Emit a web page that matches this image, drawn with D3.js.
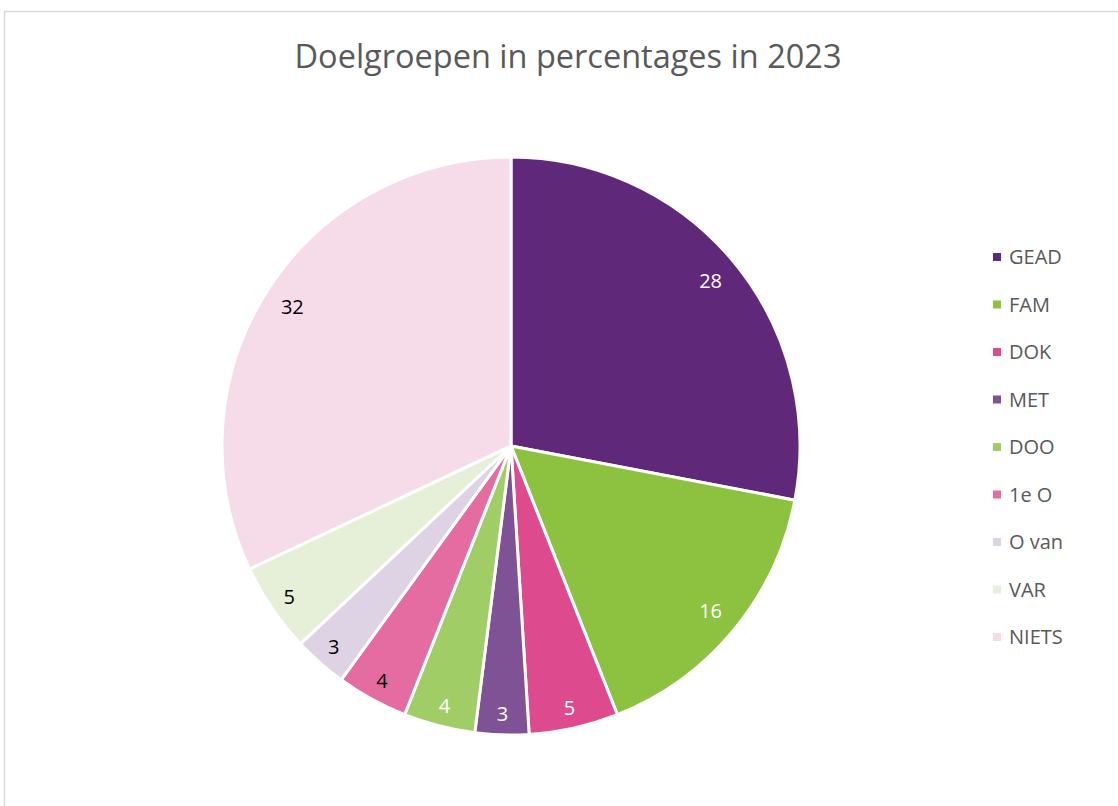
<!DOCTYPE html>
<html>
<head>
<meta charset="utf-8">
<script src="https://cdn.jsdelivr.net/npm/d3@7"></script>
<style>
  body { margin: 0; background: #fff; }
  text { font-family: "Open Sans", sans-serif; }
</style>
</head>
<body>
<svg></svg>
<script>
const categories = ['GEAD', 'FAM', 'DOK', 'MET', 'DOO', '1e O', 'O van', 'VAR', 'NIETS'];
const values = [28, 16, 5, 3, 4, 4, 3, 5, 32];
const colors = ['#5f2878', '#8dc140', '#de4a8e', '#7f5295', '#a1cd67', '#e46ca1', '#ded3e4', '#e6f0d8', '#f6dbe8'];
const labelColors = ['#fff', '#fff', '#fff', '#fff', '#fff', '#000', '#000', '#000', '#000'];

const width = 1118, height = 806;
const svg = d3.select('svg')
  .attr('width', width)
  .attr('height', height);

// chart border (runs off the right and bottom)
svg.append('path')
  .attr('d', `M4.5,${height} V11.5 H${width}`)
  .attr('fill', 'none')
  .attr('stroke', '#d9d9d9')
  .attr('stroke-width', 1.5);

svg.append('text')
  .attr('x', 568)
  .attr('y', 68)
  .attr('text-anchor', 'middle')
  .attr('fill', '#595959')
  .attr('font-size', 32.5)
  .text('Doelgroepen in percentages in 2023');

const data = categories.map((c, i) => ({ name: c, value: values[i], color: colors[i], lc: labelColors[i] }));

const radius = 289;
const g = svg.append('g').attr('transform', 'translate(511,446)');

const pie = d3.pie().value(d => d.value).sort(null);
const arc = d3.arc().innerRadius(0).outerRadius(radius);
// narrow slices get their label pushed a little further out
const bigLabel = d3.arc().innerRadius(259).outerRadius(259);
const smallLabel = d3.arc().innerRadius(268).outerRadius(268);

const arcs = pie(data);

g.selectAll('path.slice')
  .data(arcs)
  .join('path')
  .attr('class', 'slice')
  .attr('d', arc)
  .attr('fill', d => d.data.color)
  .attr('stroke', '#fff')
  .attr('stroke-width', 3)
  .attr('stroke-linejoin', 'round');

g.selectAll('text.lbl')
  .data(arcs)
  .join('text')
  .attr('class', 'lbl')
  .attr('transform', d => `translate(${(d.data.value < 10 ? smallLabel : bigLabel).centroid(d)})`)
  .attr('text-anchor', 'middle')
  .attr('dy', '0.35em')
  .attr('font-size', 20)
  .attr('fill', d => d.data.lc)
  .text(d => d.data.value);

const legend = svg.append('g').attr('transform', 'translate(993,257)');
const row = legend.selectAll('g')
  .data(data)
  .join('g')
  .attr('transform', (d, i) => `translate(0,${i * 47.5})`);

row.append('rect')
  .attr('x', 0)
  .attr('y', -4)
  .attr('width', 8)
  .attr('height', 8)
  .attr('fill', d => d.color);

row.append('text')
  .attr('x', 16)
  .attr('dy', '0.35em')
  .attr('font-size', 20)
  .attr('fill', '#595959')
  .text(d => d.name);
</script>
</body>
</html>
